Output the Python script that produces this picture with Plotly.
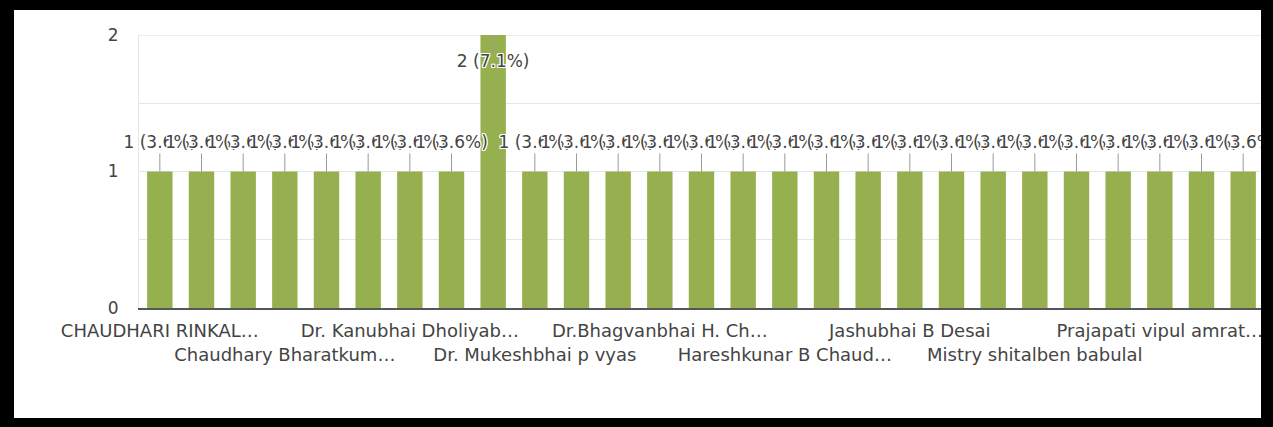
import plotly.graph_objects as go

# Number of responses per respondent, in axis order
counts = [1, 1, 1, 1, 1, 1, 1, 1, 2, 1, 1, 1, 1, 1, 1, 1, 1, 1, 1, 1, 1, 1, 1, 1, 1, 1, 1]

# Category labels; only every third category has its name printed on the axis
axis_labels = [
    "CHAUDHARI RINKAL…", "", "",
    "Chaudhary Bharatkum…", "", "",
    "Dr. Kanubhai Dholiyab…", "", "",
    "Dr. Mukeshbhai p vyas", "", "",
    "Dr.Bhagvanbhai H. Ch…", "", "",
    "Hareshkunar B Chaud…", "", "",
    "Jashubhai B Desai", "", "",
    "Mistry shitalben babulal", "", "",
    "Prajapati vipul amrat…", "", "",
]

BAR_COLOR = "#97b04f"
TEXT_COLOR = "#444444"
GRID_COLOR = "#e6e6e6"
FONT = "DejaVu Sans"

W, H = 1273, 427
ML, MR, MT, MB = 139, 9, 35, 119
PLOT_W = W - ML - MR
PLOT_H = H - MT - MB

x = list(range(len(counts)))
total = sum(counts)
ymax = max(counts)
value_labels = [f"{v} ({v / total:.1%})" for v in counts]

# pixel -> data / paper helpers
px_per_unit = PLOT_H / ymax
label_gap = 28 / px_per_unit
lead_len = 18 / px_per_unit


def xp(px):
    return (px - ML) / PLOT_W


def yp(py):
    return (H - MB - py) / PLOT_H


# labels sit above each bar, except the tallest one, whose label goes inside
label_y, lead_x, lead_y = [], [], []
for i, v in enumerate(counts):
    sign = -1 if v == ymax else 1
    label_y.append(v + sign * label_gap)
    lead_x += [i, i, None]
    lead_y += [v, v + sign * lead_len, None]

# two staggered rows of axis labels
tickvals = [i for i, t in enumerate(axis_labels) if t]
ticktext = []
for k, i in enumerate(tickvals):
    t = axis_labels[i]
    ticktext.append(t if k % 2 == 0 else "\u00a0<br>" + t)

halo = ("white 1px 0 0, white -1px 0 0, white 0 1px 0, white 0 -1px 0, "
        "white 1px 1px 0, white -1px -1px 0, white 1px -1px 0, white -1px 1px 0")

fig = go.Figure()
fig.add_trace(go.Bar(x=x, y=counts, marker=dict(color=BAR_COLOR, line=dict(width=0)),
                     hoverinfo="skip"))
fig.add_trace(go.Scatter(x=lead_x, y=lead_y, mode="lines",
                         line=dict(color="#999999", width=1), hoverinfo="skip"))
fig.add_trace(go.Scatter(x=x, y=label_y, mode="text", text=value_labels,
                         textposition="middle center", cliponaxis=False,
                         textfont=dict(family=FONT, size=17, color=TEXT_COLOR, shadow=halo),
                         hoverinfo="skip"))

# gridline along the top of the value range
shapes = [
    dict(type="line", xref="paper", yref="y", layer="below",
         x0=0, x1=1, y0=ymax, y1=ymax, line=dict(color=GRID_COLOR, width=1.5)),
]

# dark frame around the card
frame = [
    (0, 0, W, 10),
    (0, 0, 14, H),
    (1261, 0, W, H),
    (0, 418, W, H),
]
shapes += [
    dict(type="rect", xref="paper", yref="paper", layer="above",
         x0=xp(a), x1=xp(c), y0=yp(d), y1=yp(b),
         fillcolor="black", line=dict(width=0))
    for a, b, c, d in frame
]

fig.update_layout(
    width=W, height=H,
    margin=dict(l=ML, r=MR, t=MT, b=MB, pad=0),
    paper_bgcolor="white", plot_bgcolor="white",
    showlegend=False, bargap=0.39,
    shapes=shapes,
    font=dict(family=FONT, color=TEXT_COLOR),
    xaxis=dict(
        range=[-0.5, len(counts) - 0.5],
        tickmode="array", tickvals=tickvals, ticktext=ticktext,
        tickangle=0, tickfont=dict(family=FONT, size=18, color=TEXT_COLOR),
        showgrid=False, zeroline=False,
        showline=True, linecolor="#555555", linewidth=1.5,
        ticks="", ticklabelstandoff=6,
    ),
    yaxis=dict(
        range=[0, ymax], tickmode="linear", tick0=0, dtick=1,
        tickfont=dict(family=FONT, size=17, color=TEXT_COLOR),
        showgrid=True, gridcolor=GRID_COLOR, gridwidth=1,
        minor=dict(dtick=0.5, showgrid=True, gridcolor=GRID_COLOR, gridwidth=1),
        zeroline=False, showline=True, linecolor=GRID_COLOR, linewidth=1,
        ticks="", ticklabelstandoff=16,
    ),
)

fig.write_html("out.html")
